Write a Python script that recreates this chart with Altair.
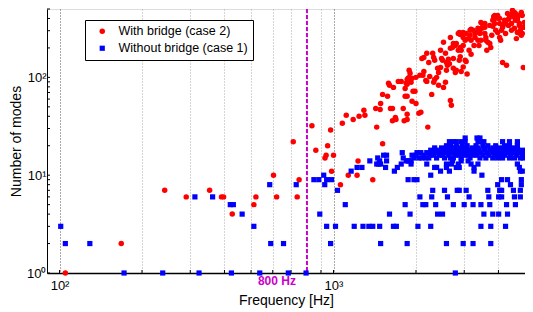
import altair as alt
import pandas as pd

series_names = ["With bridge (case 2)", "Without bridge (case 1)"]

# Case 2 (with bridge): frequency [Hz] and number of modes
red_freq = [
    105, 168, 242, 290, 353, 390, 397, 427, 512, 521, 604, 620, 713, 737, 749,
    834, 862, 931, 940, 952, 976, 1000, 984, 1060, 1077, 1113, 1180, 1132, 1219,
    1229, 1240, 1291, 1302, 1391, 1426, 1438, 1486, 1480, 1511, 1511, 1575, 1614,
    1641, 1641, 1682, 1690, 1588, 1601, 1655, 1724, 1767, 1826, 1857, 1857, 1826,
    1857, 1888, 1903, 1888, 1935, 1951, 1984, 1872, 1919, 1842, 1857, 1935, 2000,
    2067, 2137, 2119, 2172, 2190, 2245, 2283, 2321, 2340, 2379, 2419, 2419, 2459,
    2521, 2563, 2584, 2606, 2738, 2784, 2925, 3074, 2671, 2693, 2102, 2137, 2190,
    2302, 2321, 2340, 2500, 2584, 2627, 2738, 2877, 2901, 3024, 3049, 3178, 2521,
    2671, 2716, 2738, 2784, 2807, 2854, 2925, 2901, 2880, 2974, 3024, 3049, 3100,
    3151, 3178, 3231, 3285, 3312, 3367, 3424, 3452, 3510, 3568, 3568, 3598, 3658,
    3719, 3750, 3813, 3877, 3909, 3974, 4041, 3974, 4041, 4142, 4142, 4282, 4211,
    4246, 4353, 4389, 4426, 4500, 4575, 4613, 4463, 4575, 4613, 4690, 4768, 4808,
    4848, 4690, 4888, 4929, 4929, 3845, 3845, 3452, 1811, 1857, 2000, 2209, 2050,
    2084, 1797, 2854, 2974, 3151, 3285, 3367, 3481, 3568, 3719, 3813, 3877, 3974,
    4041, 4108, 4177, 4317, 4353, 4500, 4575, 4690, 4768, 4808, 4888, 4970, 3598,
    3424, 3178, 2901, 2974, 2563, 2459, 2671, 2227, 2399, 2480, 2649, 2807, 2974,
    3125, 3258, 3395, 3628, 3782, 3909, 4074, 4246, 4463, 4651, 4729, 4848,
]
red_modes = [
    1, 2, 7, 6, 7, 6, 6, 4, 5, 6, 10, 6, 22, 6, 9,
    32, 18, 15, 16, 20, 29, 16, 11, 8, 34, 41, 37, 10, 10,
    14, 40, 46, 41, 9, 48, 31, 54, 47, 21, 67, 64, 48,
    48, 36, 39, 37, 87, 83, 79, 91, 91, 64, 64, 37, 77,
    85, 100, 110, 118, 57, 72, 72, 98, 89, 87, 95, 98, 100,
    105, 115, 105, 93, 91, 102, 67, 89, 95, 100, 112, 83, 126,
    79, 89, 118, 133, 124, 112, 115, 108, 58, 52, 156, 160, 176,
    176, 160, 150, 150, 142, 153, 156, 150, 163, 150, 145, 172, 228,
    198, 202, 222, 212, 222, 189, 189, 275, 288, 255, 239, 281, 249,
    269, 310, 303, 255, 288, 317, 281, 239, 340, 325, 281, 255, 228,
    222, 202, 333, 355, 411, 430, 401, 288, 255, 325, 142, 133, 383,
    364, 340, 411, 430, 450, 461, 450, 355, 317, 383, 401, 355, 281,
    269, 288, 430, 325, 126, 420, 392, 364, 36, 42, 54, 31, 43,
    44, 48, 281, 288, 303, 281, 239, 317, 355, 340, 383, 430, 401,
    355, 303, 347, 450, 392, 485, 411, 383, 340, 303, 281, 364, 239,
    288, 239, 202, 212, 176, 189, 255, 142, 124, 156, 138, 118, 128,
    189, 212, 212, 189, 269, 303, 239, 281, 303, 249, 430, 461,
]

# Case 1 (without bridge): number of modes levels and the frequencies at each level
blue_levels = [1, 2, 3, 4, 5, 6, 7, 8, 9, 10, 11, 12, 13, 14, 15, 16, 17, 18, 19, 20, 22, 24]
blue_freq_rows = [
    [172, 238, 323, 424, 538, 684, 794, 2784],
    [105, 129, 590, 657, 976, 1486, 1857, 2584, 2974, 3231, 3750],
    [101, 512, 944, 1017, 1190, 1281, 1346, 1391, 1474, 1655, 1696, 2033, 2264, 3452, 3750, 4246],
    [464, 891, 1601, 1903, 2399, 2500, 3539, 3813, 4007, 4317],
    [420, 431, 1104, 1826, 2119, 2172, 2360, 2738, 2999, 3231, 3452, 3719, 4282, 4613],
    [312, 362, 2067, 2283, 2606, 3125, 3689, 4007, 4108, 4575, 4808],
    [1034, 2302, 2542, 2830, 2877, 3049, 3658, 4041, 4108, 4537, 4808],
    [585, 731, 929, 3974, 4426, 4848],
    [848, 884, 944, 984, 1872, 1967, 2017, 4108, 4317, 4848],
    [921, 2264, 3481],
    [1160, 1668, 2459, 2649, 3258, 4808, 4888],
    [1219, 1270, 1549, 1710, 2340, 2379, 2584, 2807, 2877, 3258, 4768],
    [1438, 1462, 1486, 1767, 1919, 2190, 2584, 2693, 2854, 3178, 3367, 4690],
    [1357, 1474, 1562, 1842, 1872, 1888, 1919, 2716, 2925, 3100],
    [1450, 1797, 1967, 2050, 2102, 2172, 2227, 2379, 2542, 2671, 2738, 2925, 3151, 3424,
     3598, 3813, 3974, 4142, 4389, 4575, 4808, 4929],
    [1524, 1562, 1935, 2000, 2137, 2245, 2321, 2439, 2500, 2627, 2784, 2877, 2999, 3100,
     3231, 3340, 3510, 3689, 3877, 4041, 4211, 4426, 4651, 4888],
    [1782, 2017, 2084, 2190, 2283, 2360, 2459, 2563, 2649, 2761, 2830, 2950, 3049, 3178,
     3312, 3452, 3628, 3782, 3942, 4108, 4282, 4463, 4651, 4848, 4970],
    [2264, 2419, 2521, 2716, 2854, 2999, 3125, 3285, 3395, 3539, 3719, 3877, 4074, 4246,
     4500, 4729, 4929],
    [2340, 2480, 2606, 2693, 2784, 2901, 3024, 3204, 3367, 3568, 3813, 4007, 4177, 4353, 4537],
    [2584, 2671, 2807, 2950, 3074, 3312, 3510, 3658, 3909, 4211, 4389, 4690],
    [2649, 2738, 2807, 2925, 3024, 3367, 3452, 3539, 4142, 4389, 4690],
    [3024, 3340, 3424],
]

x_tick_values = [100, 200, 300, 400, 500, 600, 700, 800, 900, 1000, 2000, 3000, 4000]
y_tick_values = [1, 2, 3, 4, 5, 6, 7, 8, 9, 10, 20, 30, 40, 50, 60, 70, 80, 90,
                 100, 200, 300, 400, 500]
marker_freq = [800]
marker_label = ["800 Hz"]

rows = []
for f, n in zip(red_freq, red_modes):
    rows.append({"f": f, "n": n, "series": series_names[0]})
for lvl, fs in zip(blue_levels, blue_freq_rows):
    for f in fs:
        rows.append({"f": f, "n": lvl, "series": series_names[1]})
df = pd.DataFrame(rows)

FONT = "Liberation Sans"
W, H = 478, 264

x_scale = alt.Scale(type="log", domain=[90, 5000], nice=False)
y_scale = alt.Scale(type="log", domain=[1, 500], nice=False)

x_axis = alt.Axis(
    values=x_tick_values,
    labelExpr="datum.value == 100 ? '10²' : (datum.value == 1000 ? '10³' : '')",
    grid=True,
    gridDash=[1, 2],
    gridColor={"condition": {"test": "datum.value == 100 || datum.value == 1000", "value": "#555555"},
               "value": "#aaaaaa"},
    gridWidth=1,
    ticks=False,
    domainColor="black",
    domainWidth=1.5,
    labelFont=FONT,
    labelFontSize=13,
    labelColor="black",
    labelPadding=6,
    labelFlush=False,
    labelOverlap=False,
    title="Frequency [Hz]",
    titleFont=FONT,
    titleFontSize=14,
    titleFontWeight="normal",
    titleColor="black",
    titleBaseline="alphabetic",
    titleY=31,
)
y_axis = alt.Axis(
    values=[1, 10, 100],
    labelExpr="datum.value == 1 ? '10⁰' : (datum.value == 10 ? '10¹' : '10²')",
    grid=False,
    ticks=False,
    domainColor="black",
    domainWidth=1,
    labelFont=FONT,
    labelFontSize=13,
    labelColor="black",
    labelPadding=1,
    labelOverlap=False,
    labelFlush=False,
    title="Number of modes",
    titleFont=FONT,
    titleFontSize=14,
    titleFontWeight="normal",
    titleColor="black",
    titleX=-24,
    titleY=H / 2,
    titleBaseline="bottom",
    titleAlign="center",
)

x_enc = alt.X("f:Q", scale=x_scale, axis=x_axis)
y_enc = alt.Y("n:Q", scale=y_scale, axis=y_axis)

legend = alt.Legend(
    title=None,
    orient="none",
    legendX=38,
    legendY=11,
    strokeColor="black",
    fillColor="white",
    padding=5,
    cornerRadius=0,
    labelFont=FONT,
    labelFontSize=12.5,
    labelColor="black",
    symbolSize=22,
    symbolStrokeWidth=0,
    symbolOffset=6,
    labelOffset=10,
    rowPadding=4,
)

points = alt.Chart(df).mark_point(filled=True, opacity=1).encode(
    x=x_enc,
    y=y_enc,
    color=alt.Color("series:N", scale=alt.Scale(domain=series_names, range=["#ff0000", "#0000ff"]), legend=legend),
    shape=alt.Shape("series:N", scale=alt.Scale(domain=series_names, range=["circle", "square"]), legend=legend),
    size=alt.Size("series:N", scale=alt.Scale(domain=series_names, range=[30, 27]), legend=None),
)

marker_df = pd.DataFrame({"f": marker_freq, "label": marker_label})
vline = alt.Chart(marker_df).mark_rule(color="#cc00cc", strokeWidth=2, strokeDash=[4, 2]).encode(x=x_enc)
vtext = alt.Chart(marker_df).mark_text(
    color="#cc00cc", font=FONT, fontSize=12, fontWeight="bold", align="right", baseline="middle", dx=-11
).encode(x=x_enc, y=alt.value(H + 8), text="label:N")

xt = alt.Chart(pd.DataFrame({"f": x_tick_values})).mark_rule(color="black", strokeWidth=1).encode(
    x=x_enc, y=alt.value(H), y2=alt.value(H - 3)
)
yt = alt.Chart(pd.DataFrame({"n": y_tick_values})).mark_rule(color="black", strokeWidth=1).encode(
    y=y_enc, x=alt.value(0), x2=alt.value(3)
)

chart = alt.layer(xt, yt, vline, points, vtext).properties(
    width=W,
    height=H,
    autosize=alt.AutoSizeParams(type="none"),
    padding={"left": 39, "top": 1, "right": 0, "bottom": 38},
).configure_view(strokeWidth=0).configure(background="white")

chart.save("out.html", embed_options={"renderer": "svg", "actions": False})
